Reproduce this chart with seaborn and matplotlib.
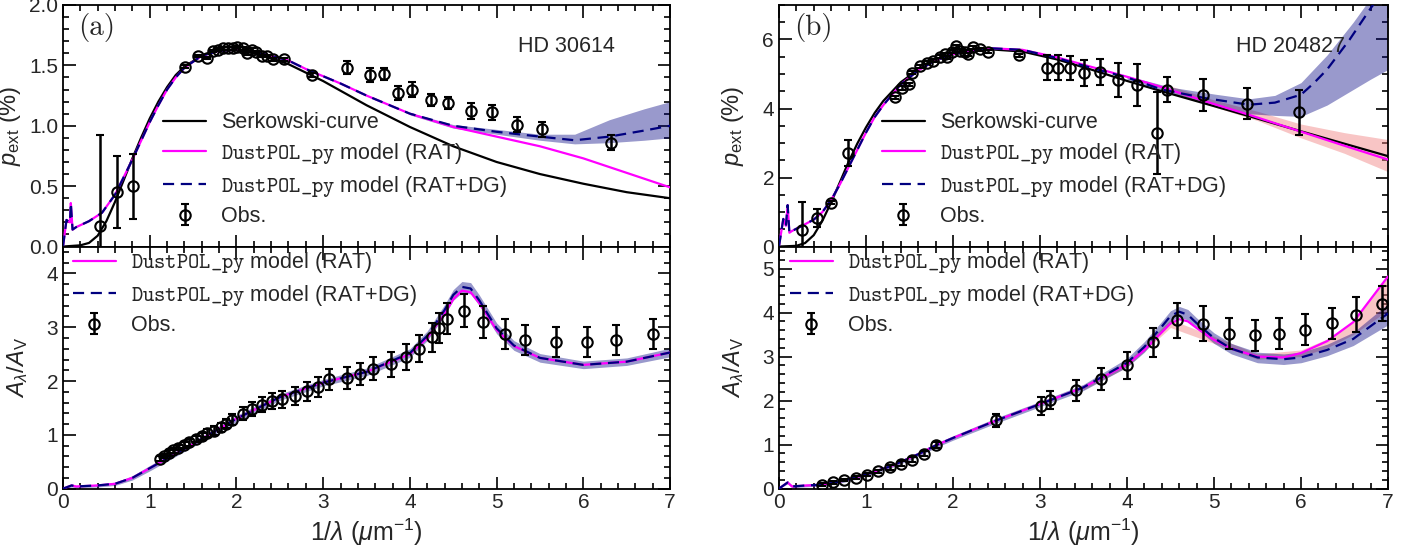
import numpy as np
import matplotlib
matplotlib.use("Agg")
import matplotlib.pyplot as plt
import seaborn as sns
from matplotlib.ticker import MultipleLocator

sns.set_theme(style="ticks")
plt.rcParams['font.family'] = ['Liberation Sans', 'DejaVu Sans']
plt.rcParams['mathtext.fontset'] = 'custom'
plt.rcParams['mathtext.rm'] = 'Liberation Sans'
plt.rcParams['mathtext.it'] = 'Liberation Sans:italic'
plt.rcParams['mathtext.tt'] = 'cmtt10'

# --- colori ---
C_SERK = 'black'
C_RAT = '#ff00ff'
C_DG = '#00007f'
C_DG_BAND = '#000080'
C_RAT_BAND = 'lightcoral'

# ================= (a) HD 30614 : p_ext =================
serkA_x = [0, 0.2, 0.3, 0.4, 0.5, 0.6, 0.7, 0.8, 0.9, 1.0, 1.1, 1.2, 1.3, 1.4, 1.6, 1.8, 2.0, 2.2,
           2.4, 2.6, 2.8, 3.0, 3.2, 3.5, 4.0, 4.5, 5.0, 5.5, 6.0, 6.5, 7.0]
serkA_y = [0, 0.01, 0.03, 0.09, 0.21, 0.37, 0.55, 0.73, 0.90, 1.06, 1.20, 1.32, 1.42, 1.49, 1.58,
           1.63, 1.63, 1.60, 1.56, 1.51, 1.44, 1.37, 1.29, 1.17, 0.99, 0.83, 0.70, 0.60, 0.52, 0.45,
           0.40]

ratA_x = [0, 0.04, 0.08, 0.09, 0.11, 0.15, 0.3, 0.45, 0.6, 0.8, 1.0, 1.1, 1.2, 1.3, 1.4, 1.6, 1.8,
          2.0, 2.2, 2.4, 2.6, 2.8, 3.0, 3.2, 3.5, 4.0, 4.5, 5.0, 5.5, 6.0, 6.5, 7.0]
ratA_y = [0, 0.22, 0.20, 0.36, 0.14, 0.16, 0.21, 0.28, 0.43, 0.72, 1.03, 1.17, 1.30, 1.40, 1.48,
          1.58, 1.62, 1.63, 1.61, 1.58, 1.54, 1.47, 1.41, 1.35, 1.25, 1.10, 0.99, 0.91, 0.83, 0.73,
          0.61, 0.49]

dgA_x = [0, 0.04, 0.08, 0.09, 0.11, 0.15, 0.3, 0.45, 0.6, 0.8, 1.0, 1.1, 1.2, 1.3, 1.4, 1.6, 1.8,
         2.0, 2.2, 2.4, 2.6, 2.8, 3.0, 3.2, 3.5, 4.0, 4.5, 5.0, 5.5, 5.9, 6.3, 6.7, 7.0]
dgA_y = [0, 0.22, 0.20, 0.36, 0.14, 0.16, 0.21, 0.28, 0.43, 0.72, 1.03, 1.17, 1.30, 1.40, 1.48,
         1.58, 1.62, 1.63, 1.61, 1.58, 1.54, 1.47, 1.41, 1.35, 1.25, 1.10, 1.00, 0.95, 0.91, 0.88,
         0.91, 0.96, 1.00]
dgA_band_x = [4.0, 4.5, 5.0, 5.5, 5.9, 6.3, 6.7, 7.0]
dgA_band_lo = [1.09, 0.98, 0.93, 0.88, 0.85, 0.86, 0.88, 0.90]
dgA_band_hi = [1.11, 1.01, 0.97, 0.93, 0.93, 1.05, 1.14, 1.20]

obsA_x = [0.43, 0.62, 0.81, 1.41, 1.56, 1.66, 1.73, 1.79, 1.84, 1.90, 1.96, 2.01, 2.07, 2.12, 2.18,
          2.23, 2.29, 2.35, 2.42, 2.55, 2.87, 3.28, 3.54, 3.70, 3.86, 4.02, 4.24, 4.44, 4.70, 4.95,
          5.23, 5.52, 6.32]
obsA_y = [0.17, 0.45, 0.50, 1.49, 1.58, 1.56, 1.62, 1.63, 1.64, 1.64, 1.64, 1.65, 1.64, 1.60, 1.63,
          1.61, 1.58, 1.58, 1.55, 1.55, 1.42, 1.48, 1.42, 1.43, 1.27, 1.30, 1.21, 1.19, 1.12, 1.11,
          1.01, 0.97, 0.86]
obsA_err = [0.75, 0.30, 0.27, 0.01, 0.01, 0.01, 0.01, 0.01, 0.01, 0.01, 0.01, 0.01, 0.01, 0.01, 0.01,
            0.01, 0.01, 0.01, 0.01, 0.01, 0.02, 0.055, 0.055, 0.05, 0.06, 0.06, 0.05, 0.05, 0.065,
            0.06, 0.06, 0.06, 0.06]

# ================= (a) HD 30614 : A_lambda/A_V =================
extA_x = [0, 0.1, 0.15, 0.4, 0.6, 0.8, 1.0, 1.2, 1.5, 2.0, 2.5, 3.0, 3.5, 4.0, 4.2, 4.4, 4.5, 4.6,
          4.7, 4.8, 5.0, 5.2, 5.5, 6.0, 6.5, 7.0]
extA_rat = [0.0, 0.06, 0.04, 0.06, 0.09, 0.20, 0.38, 0.56, 0.83, 1.30, 1.70, 1.97, 2.17, 2.50, 2.80,
            3.25, 3.52, 3.68, 3.65, 3.45, 2.95, 2.65, 2.43, 2.30, 2.36, 2.53]
extA_dg = [0.0, 0.06, 0.04, 0.06, 0.09, 0.20, 0.38, 0.56, 0.83, 1.30, 1.70, 1.97, 2.17, 2.52, 2.84,
           3.32, 3.60, 3.75, 3.72, 3.50, 2.98, 2.66, 2.43, 2.30, 2.36, 2.53]
extA_band_lo = [0.0, 0.03, 0.02, 0.03, 0.06, 0.16, 0.33, 0.51, 0.78, 1.24, 1.64, 1.91, 2.10, 2.44,
                2.75, 3.22, 3.50, 3.64, 3.62, 3.40, 2.88, 2.57, 2.35, 2.23, 2.29, 2.45]
extA_band_hi = [0.02, 0.08, 0.06, 0.08, 0.12, 0.24, 0.43, 0.61, 0.88, 1.36, 1.76, 2.03, 2.24, 2.60,
                2.93, 3.42, 3.70, 3.85, 3.83, 3.60, 3.08, 2.75, 2.51, 2.37, 2.43, 2.61]

obsAe_x = [1.12, 1.17, 1.22, 1.27, 1.33, 1.40, 1.45, 1.53, 1.60, 1.66, 1.74, 1.82, 1.88, 1.95, 2.07,
           2.18, 2.29, 2.41, 2.52, 2.67, 2.81, 2.94, 3.07, 3.28, 3.43, 3.58, 3.78, 3.95, 4.10, 4.25,
           4.33, 4.43, 4.62, 4.84, 5.10, 5.33, 5.68, 6.04, 6.38, 6.80]
obsAe_y = [0.56, 0.61, 0.66, 0.71, 0.76, 0.81, 0.86, 0.92, 0.97, 1.03, 1.08, 1.14, 1.21, 1.28, 1.39,
           1.48, 1.56, 1.63, 1.66, 1.72, 1.81, 1.89, 2.03, 2.06, 2.13, 2.23, 2.31, 2.44, 2.60, 2.81,
           2.99, 3.16, 3.31, 3.10, 2.88, 2.77, 2.72, 2.72, 2.77, 2.88]
obsAe_err = [0.04, 0.04, 0.05, 0.05, 0.05, 0.05, 0.06, 0.06, 0.07, 0.07, 0.08, 0.08, 0.09, 0.10, 0.12,
             0.13, 0.14, 0.15, 0.16, 0.17, 0.18, 0.19, 0.20, 0.21, 0.21, 0.22, 0.23, 0.24, 0.25, 0.27,
             0.28, 0.29, 0.31, 0.30, 0.28, 0.28, 0.28, 0.28, 0.28, 0.28]

# ================= (b) HD 204827 : p_ext =================
serkB_x = [0, 0.2, 0.3, 0.4, 0.5, 0.6, 0.7, 0.8, 0.9, 1.0, 1.1, 1.2, 1.4, 1.6, 1.8, 2.0, 2.4, 2.8,
           3.2, 3.6, 4.0, 4.4, 5.0, 5.4, 6.0, 6.5, 7.0]
serkB_y = [0, 0.02, 0.10, 0.33, 0.75, 1.28, 1.86, 2.45, 2.98, 3.45, 3.87, 4.22, 4.76, 5.13, 5.40,
           5.57, 5.72, 5.65, 5.42, 5.12, 4.80, 4.50, 4.07, 3.78, 3.34, 2.98, 2.62]

ratB_x = [0, 0.05, 0.08, 0.1, 0.12, 0.15, 0.25, 0.4, 0.5, 0.6, 0.7, 0.8, 0.9, 1.0, 1.1, 1.2, 1.4,
          1.6, 1.8, 2.0, 2.4, 2.8, 3.2, 3.6, 4.0, 4.4, 5.0, 5.4, 6.0, 6.5, 7.0]
ratB_y = [0, 0.80, 0.60, 1.20, 0.40, 0.45, 0.58, 0.78, 1.00, 1.35, 1.80, 2.30, 2.80, 3.30, 3.75, 4.10,
          4.70, 5.10, 5.40, 5.58, 5.75, 5.70, 5.48, 5.20, 4.92, 4.62, 4.13, 3.82, 3.33, 2.92, 2.52]
ratB_band_x = [4.5, 5.0, 5.5, 6.0, 6.5, 7.0]
ratB_band_lo = [4.50, 4.05, 3.65, 3.15, 2.70, 2.17]
ratB_band_hi = [4.65, 4.25, 3.92, 3.55, 3.30, 3.10]

dgB_x = [0, 0.05, 0.08, 0.1, 0.12, 0.15, 0.25, 0.4, 0.5, 0.6, 0.7, 0.8, 0.9, 1.0, 1.1, 1.2, 1.4,
         1.6, 1.8, 2.0, 2.4, 2.8, 3.2, 3.6, 4.0, 4.4, 4.9, 5.4, 5.7, 6.0, 6.15, 6.3, 6.56, 6.8, 7.0]
dgB_y = [0, 0.80, 0.60, 1.20, 0.40, 0.45, 0.58, 0.78, 1.00, 1.35, 1.80, 2.30, 2.80, 3.30, 3.75, 4.10,
         4.70, 5.10, 5.40, 5.58, 5.75, 5.70, 5.46, 5.17, 4.90, 4.55, 4.30, 4.11, 4.17, 4.40, 4.74,
         5.13, 6.00, 6.90, 7.60]
dgB_band_x = [4.0, 4.5, 5.0, 5.4, 5.7, 6.0, 6.3, 6.6, 6.8, 7.0]
dgB_band_lo = [4.85, 4.45, 4.10, 3.85, 3.80, 3.77, 4.10, 4.55, 4.85, 5.13]
dgB_band_hi = [4.95, 4.62, 4.42, 4.28, 4.38, 4.75, 5.55, 6.50, 7.20, 7.80]

obsB_x = [0.26, 0.44, 0.60, 0.79, 1.33, 1.41, 1.49, 1.53, 1.62, 1.70, 1.77, 1.85, 1.91, 1.93, 1.99,
          2.03, 2.08, 2.14, 2.17, 2.23, 2.31, 2.40, 2.76, 3.08, 3.21, 3.34, 3.51, 3.69, 3.90, 4.12,
          4.35, 4.46, 4.87, 5.38, 5.98]
obsB_y = [0.49, 0.83, 1.27, 2.71, 4.32, 4.60, 4.70, 5.04, 5.22, 5.33, 5.39, 5.50, 5.57, 5.48, 5.65,
          5.80, 5.68, 5.65, 5.57, 5.77, 5.71, 5.65, 5.54, 5.18, 5.18, 5.18, 5.03, 5.05, 4.82, 4.68,
          3.29, 4.55, 4.39, 4.14, 3.89]
obsB_err = [0.80, 0.27, 0.05, 0.38, 0.05, 0.05, 0.05, 0.05, 0.05, 0.05, 0.05, 0.05, 0.05, 0.05, 0.05,
            0.05, 0.05, 0.05, 0.05, 0.05, 0.05, 0.05, 0.05, 0.36, 0.36, 0.34, 0.38, 0.38, 0.50, 0.60,
            1.20, 0.37, 0.47, 0.45, 0.65]

# ================= (b) HD 204827 : A_lambda/A_V =================
extB_x = [0, 0.1, 0.15, 0.3, 0.5, 0.7, 1.0, 1.3, 1.6, 1.8, 2.0, 2.5, 3.0, 3.5, 4.0, 4.2, 4.4, 4.5,
          4.6, 4.7, 4.8, 5.0, 5.2, 5.5, 5.8, 6.0, 6.3, 6.6, 7.0]
extB_rat = [0, 0.14, 0.05, 0.07, 0.09, 0.16, 0.32, 0.52, 0.78, 0.98, 1.15, 1.55, 1.92, 2.30, 2.82,
            3.15, 3.55, 3.75, 3.85, 3.80, 3.65, 3.38, 3.18, 3.00, 2.98, 3.08, 3.35, 3.78, 4.82]
extB_dg = [0, 0.14, 0.05, 0.07, 0.09, 0.16, 0.32, 0.52, 0.78, 0.98, 1.15, 1.55, 1.92, 2.30, 2.86,
           3.22, 3.68, 3.92, 4.02, 3.95, 3.76, 3.42, 3.18, 2.98, 2.94, 2.98, 3.15, 3.40, 3.98]
extB_dg_lo = [0, 0.11, 0.02, 0.04, 0.06, 0.12, 0.28, 0.48, 0.73, 0.93, 1.10, 1.49, 1.86, 2.23, 2.76,
              3.10, 3.56, 3.80, 3.90, 3.83, 3.64, 3.30, 3.06, 2.86, 2.82, 2.86, 3.02, 3.25, 3.72]
extB_dg_hi = [0.03, 0.17, 0.08, 0.10, 0.12, 0.20, 0.36, 0.56, 0.83, 1.03, 1.20, 1.61, 1.98, 2.37,
              2.96, 3.34, 3.80, 4.04, 4.14, 4.07, 3.88, 3.54, 3.30, 3.10, 3.06, 3.10, 3.28, 3.55, 4.20]
extB_rat_band_x = [3.5, 4.0, 4.5, 5.0, 5.5, 6.0, 6.3, 6.6, 7.0]
extB_rat_lo = [2.25, 2.76, 3.66, 3.30, 2.94, 3.00, 3.20, 3.50, 4.05]
extB_rat_hi = [2.35, 2.88, 3.84, 3.46, 3.06, 3.15, 3.40, 3.80, 4.85]

obsBe_x = [0.50, 0.62, 0.75, 0.88, 1.01, 1.14, 1.28, 1.40, 1.53, 1.67, 1.80, 2.49, 3.01, 3.12, 3.41,
           3.70, 4.00, 4.30, 4.57, 4.87, 5.17, 5.47, 5.75, 6.05, 6.36, 6.63, 6.93]
obsBe_y = [0.09, 0.14, 0.20, 0.25, 0.32, 0.39, 0.48, 0.57, 0.66, 0.79, 1.00, 1.55, 1.88, 2.02, 2.23,
           2.48, 2.80, 3.32, 3.82, 3.75, 3.52, 3.48, 3.52, 3.61, 3.76, 3.95, 4.20]
obsBe_err = [0.03, 0.03, 0.03, 0.04, 0.04, 0.04, 0.05, 0.05, 0.05, 0.06, 0.07, 0.15, 0.20, 0.20, 0.23,
             0.25, 0.30, 0.34, 0.39, 0.40, 0.35, 0.35, 0.35, 0.35, 0.35, 0.40, 0.40]

LBL_RAT = r'$\mathtt{DustPOL\_py}$ model (RAT)'
LBL_DG = r'$\mathtt{DustPOL\_py}$ model (RAT+DG)'

TICK_FS = 15
LEG_FS = 15.5
YLAB_FS = 17
XLAB_FS = 18


def draw_line(ax, x, y, color, label, ls='-'):
    sns.lineplot(x=x, y=y, ax=ax, color=color, lw=1.6, label=label, linestyle=ls,
                 sort=False, errorbar=None, legend=False, zorder=3)
    return ax.lines[-1]


def draw_obs(ax, x, y, err):
    return ax.errorbar(x, y, yerr=err, fmt='o', mfc='none', mec='black', ms=7.5, mew=1.5,
                       ecolor='black', elinewidth=1.8, capsize=3, capthick=1.8, zorder=5,
                       label='Obs.')


def style_axes(ax, ymaj, ymin, ylim):
    ax.set_xlim(0, 7)
    ax.set_ylim(*ylim)
    ax.xaxis.set_major_locator(MultipleLocator(1))
    ax.xaxis.set_minor_locator(MultipleLocator(0.2))
    ax.yaxis.set_major_locator(MultipleLocator(ymaj))
    ax.yaxis.set_minor_locator(MultipleLocator(ymin))
    ax.tick_params(which='both', direction='in', top=True, right=True, labelsize=TICK_FS,
                   color='black', width=1.2)
    ax.tick_params(which='major', length=9)
    ax.tick_params(which='minor', length=4.5)
    for sp in ax.spines.values():
        sp.set_linewidth(1.3)
        sp.set_color('black')


def add_legend(ax, handles, labels, anchor):
    ax.legend(handles, labels, loc='upper left', bbox_to_anchor=anchor, frameon=False,
              fontsize=LEG_FS, handlelength=2.0, labelspacing=0.35, handletextpad=0.7,
              borderpad=0.0, borderaxespad=0.0)


fig = plt.figure(figsize=(14.16, 5.54), dpi=100)
axes = {
    'a_top': fig.add_axes([0.0445, 0.555, 0.4287, 0.436]),
    'a_bot': fig.add_axes([0.0445, 0.118, 0.4287, 0.437]),
    'b_top': fig.add_axes([0.5501, 0.555, 0.4301, 0.436]),
    'b_bot': fig.add_axes([0.5501, 0.118, 0.4301, 0.437]),
}

dash = (0, (5, 3))

# --- (a) top ---
ax = axes['a_top']
ax.fill_between(dgA_band_x, dgA_band_lo, dgA_band_hi, color=C_DG_BAND, alpha=0.4, lw=0, zorder=1)
h1 = draw_line(ax, serkA_x, serkA_y, C_SERK, 'Serkowski-curve')
h2 = draw_line(ax, ratA_x, ratA_y, C_RAT, LBL_RAT)
h3 = draw_line(ax, dgA_x, dgA_y, C_DG, LBL_DG, ls=dash)
h4 = draw_obs(ax, obsA_x, obsA_y, obsA_err)
style_axes(ax, 0.5, 0.1, (0, 2.0))
ax.set_ylabel(r'$p_{\rm ext}$ (%)', fontsize=YLAB_FS, labelpad=4)
ax.tick_params(labelbottom=False)
ax.yaxis.set_major_formatter(matplotlib.ticker.FormatStrFormatter('%.1f'))
add_legend(ax, [h1, h2, h3, h4], ['Serkowski-curve', LBL_RAT, LBL_DG, 'Obs.'], (0.165, 0.555))
ax.text(0.056, 0.905, '(a)', transform=ax.transAxes, fontsize=21, family='cmr10',
        ha='center', va='center')
ax.text(0.83, 0.83, 'HD 30614', transform=ax.transAxes, fontsize=15.5, ha='center', va='center')

# --- (a) bottom ---
ax = axes['a_bot']
ax.fill_between(extA_x, extA_band_lo, extA_band_hi, color=C_DG_BAND, alpha=0.4, lw=0, zorder=1)
g2 = draw_line(ax, extA_x, extA_rat, C_RAT, LBL_RAT)
g3 = draw_line(ax, extA_x, extA_dg, C_DG, LBL_DG, ls=dash)
g4 = draw_obs(ax, obsAe_x, obsAe_y, obsAe_err)
style_axes(ax, 1, 0.2, (0, 4.5))
ax.set_ylabel(r'$A_{\lambda}/A_{\rm V}$', fontsize=YLAB_FS, labelpad=12)
ax.set_xlabel(r'$1/\lambda$ ($\mu$m$^{-1}$)', fontsize=XLAB_FS, labelpad=3)
add_legend(ax, [g2, g3, g4], [LBL_RAT, LBL_DG, 'Obs.'], (0.016, 0.985))

# --- (b) top ---
ax = axes['b_top']
ax.fill_between(ratB_band_x, ratB_band_lo, ratB_band_hi, color=C_RAT_BAND, alpha=0.45, lw=0, zorder=1)
ax.fill_between(dgB_band_x, dgB_band_lo, dgB_band_hi, color=C_DG_BAND, alpha=0.4, lw=0, zorder=1)
k1 = draw_line(ax, serkB_x, serkB_y, C_SERK, 'Serkowski-curve')
k2 = draw_line(ax, ratB_x, ratB_y, C_RAT, LBL_RAT)
k3 = draw_line(ax, dgB_x, dgB_y, C_DG, LBL_DG, ls=dash)
k4 = draw_obs(ax, obsB_x, obsB_y, obsB_err)
style_axes(ax, 2, 0.5, (0, 7))
ax.set_ylabel(r'$p_{\rm ext}$ (%)', fontsize=YLAB_FS, labelpad=12)
ax.tick_params(labelbottom=False)
add_legend(ax, [k1, k2, k3, k4], ['Serkowski-curve', LBL_RAT, LBL_DG, 'Obs.'], (0.169, 0.555))
ax.text(0.056, 0.905, '(b)', transform=ax.transAxes, fontsize=21, family='cmr10',
        ha='center', va='center')
ax.text(0.84, 0.83, 'HD 204827', transform=ax.transAxes, fontsize=15.5, ha='center', va='center')

# --- (b) bottom ---
ax = axes['b_bot']
ax.fill_between(extB_rat_band_x, extB_rat_lo, extB_rat_hi, color=C_RAT_BAND, alpha=0.45, lw=0, zorder=1)
ax.fill_between(extB_x, extB_dg_lo, extB_dg_hi, color=C_DG_BAND, alpha=0.4, lw=0, zorder=1)
m2 = draw_line(ax, extB_x, extB_rat, C_RAT, LBL_RAT)
m3 = draw_line(ax, extB_x, extB_dg, C_DG, LBL_DG, ls=dash)
m4 = draw_obs(ax, obsBe_x, obsBe_y, obsBe_err)
style_axes(ax, 1, 0.2, (0, 5.5))
ax.set_ylabel(r'$A_{\lambda}/A_{\rm V}$', fontsize=YLAB_FS, labelpad=12)
ax.set_xlabel(r'$1/\lambda$ ($\mu$m$^{-1}$)', fontsize=XLAB_FS, labelpad=3)
add_legend(ax, [m2, m3, m4], [LBL_RAT, LBL_DG, 'Obs.'], (0.018, 0.985))

fig.savefig('out.png', dpi=100)
plt.close(fig)
